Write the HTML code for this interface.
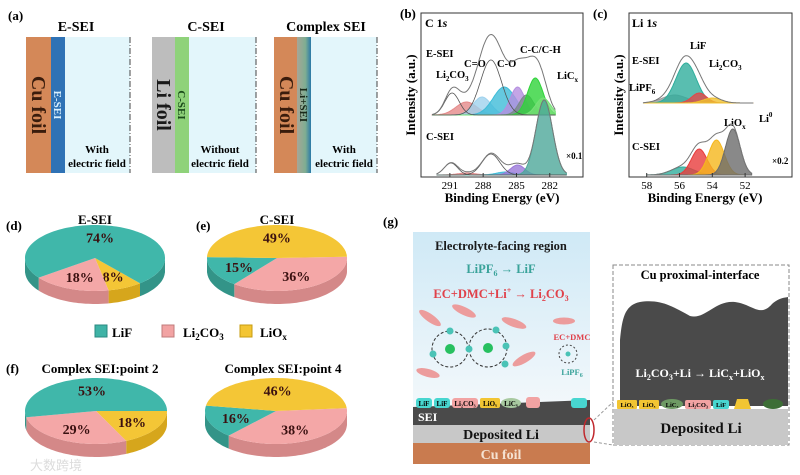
<!DOCTYPE html>
<html><head><meta charset="utf-8">
<style>
html,body{margin:0;padding:0;background:#fff;}
svg{display:block;font-family:"Liberation Serif",serif;font-weight:bold;}
</style></head>
<body>
<svg id="fig" width="800" height="475" viewBox="0 0 800 475" xmlns="http://www.w3.org/2000/svg">
<defs>
<linearGradient id="sky" x1="0" y1="0" x2="0" y2="1"><stop offset="0" stop-color="#cfe9f6"/><stop offset="1" stop-color="#f3f8fb"/></linearGradient>
<linearGradient id="cx" x1="0" y1="0" x2="1" y2="0"><stop offset="0" stop-color="#a7a596"/><stop offset="0.6" stop-color="#7fae92"/><stop offset="1" stop-color="#2b79a7"/></linearGradient>
</defs>

<!-- Panel (a) -->
<g>
<text x="8" y="20" font-size="13">(a)</text>
<text x="76" y="31" font-size="14" text-anchor="middle">E-SEI</text>
<text x="206" y="31" font-size="14" text-anchor="middle">C-SEI</text>
<text x="326" y="31" font-size="14" text-anchor="middle">Complex SEI</text>

<rect x="26" y="37" width="25" height="136" fill="#d48858"/>
<rect x="51" y="37" width="14" height="136" fill="#2f72b5"/>
<rect x="65" y="37" width="65" height="136" fill="#e3f6fb"/>
<line x1="130" y1="37" x2="130" y2="173" stroke="#444" stroke-dasharray="6,2,1,2"/>
<text transform="translate(32,105) rotate(90)" font-size="20" text-anchor="middle" fill="#3a1c0c">Cu foil</text>
<text transform="translate(54,105) rotate(90)" font-size="11" text-anchor="middle" fill="#d8f0ff">E-SEI</text>
<text x="97" y="153" font-size="11" text-anchor="middle">With</text>
<text x="97" y="167" font-size="11" text-anchor="middle">electric field</text>

<rect x="152" y="37" width="23" height="136" fill="#bdbdbd"/>
<rect x="175" y="37" width="14" height="136" fill="#8fd27a"/>
<rect x="189" y="37" width="67" height="136" fill="#e3f6fb"/>
<line x1="256" y1="37" x2="256" y2="173" stroke="#444" stroke-dasharray="6,2,1,2"/>
<text transform="translate(157,105) rotate(90)" font-size="20" text-anchor="middle" fill="#1a1a1a">Li foil</text>
<text transform="translate(178,105) rotate(90)" font-size="11" text-anchor="middle" fill="#1a4a1a">C-SEI</text>
<text x="220" y="153" font-size="11" text-anchor="middle">Without</text>
<text x="220" y="167" font-size="11" text-anchor="middle">electric field</text>

<rect x="274" y="37" width="23" height="136" fill="#d48858"/>
<rect x="297" y="37" width="14" height="136" fill="url(#cx)"/>
<rect x="311" y="37" width="66" height="136" fill="#e3f6fb"/>
<line x1="377" y1="37" x2="377" y2="173" stroke="#444" stroke-dasharray="6,2,1,2"/>
<text transform="translate(280,105) rotate(90)" font-size="20" text-anchor="middle" fill="#3a1c0c">Cu foil</text>
<text transform="translate(300,105) rotate(90)" font-size="11" text-anchor="middle" fill="#1a2a1a">Li+SEI</text>
<text x="344" y="153" font-size="11" text-anchor="middle">With</text>
<text x="344" y="167" font-size="11" text-anchor="middle">electric field</text>
</g>

<!-- Panel (b) -->
<g id="pb">
<text x="400" y="18" font-size="13">(b)</text>
<rect x="421" y="13" width="162" height="164" fill="none" stroke="#333"/>
<text x="425" y="27" font-size="12">C 1<tspan font-style="italic">s</tspan></text>
<text transform="translate(415,95) rotate(-90)" font-size="13" text-anchor="middle">Intensity (a.u.)</text>
<text x="502" y="202" font-size="13" text-anchor="middle">Binding Energy (eV)</text>
<text x="426" y="57" font-size="10.5">E-SEI</text>
<text x="426" y="140" font-size="10.5">C-SEI</text>
<text x="436" y="78" font-size="10.5">Li<tspan font-size="7" dy="3">2</tspan><tspan dy="-3">CO</tspan><tspan font-size="7" dy="3">3</tspan></text>
<text x="464" y="67" font-size="10.5">C=O</text>
<text x="497" y="67" font-size="10.5">C-O</text>
<text x="520" y="53" font-size="10.5">C-C/C-H</text>
<text x="557" y="79" font-size="10.5">LiC<tspan font-size="7" dy="3">x</tspan></text>
<text x="566" y="159" font-size="9">×0.1</text>
</g>

<!-- Panel (c) -->
<g id="pc">
<text x="593" y="18" font-size="13">(c)</text>
<rect x="629" y="13" width="163" height="164" fill="none" stroke="#333"/>
<text x="632" y="27" font-size="12">Li 1<tspan font-style="italic">s</tspan></text>
<text transform="translate(623,95) rotate(-90)" font-size="13" text-anchor="middle">Intensity (a.u.)</text>
<text x="705" y="202" font-size="13" text-anchor="middle">Binding Energy (eV)</text>
<text x="632" y="64" font-size="10.5">E-SEI</text>
<text x="632" y="150" font-size="10.5">C-SEI</text>
<text x="690" y="49" font-size="10.5">LiF</text>
<text x="709" y="67" font-size="10.5">Li<tspan font-size="7" dy="3">2</tspan><tspan dy="-3">CO</tspan><tspan font-size="7" dy="3">3</tspan></text>
<text x="629" y="91" font-size="10.5">LiPF<tspan font-size="7" dy="3">6</tspan></text>
<text x="724" y="126" font-size="10.5">LiO<tspan font-size="7" dy="3">x</tspan></text>
<text x="759" y="122" font-size="10.5">Li<tspan font-size="7" dy="-5">0</tspan></text>
<text x="772" y="164" font-size="9">×0.2</text>
</g>

<!-- Pies -->
<g id="pies">
<text x="6" y="230" font-size="13">(d)</text>
<text x="95" y="224" font-size="13" text-anchor="middle">E-SEI</text>
<text x="196" y="230" font-size="13">(e)</text>
<text x="277" y="224" font-size="13" text-anchor="middle">C-SEI</text>
<text x="6" y="373" font-size="13">(f)</text>
<text x="100" y="373" font-size="13" text-anchor="middle">Complex SEI:point 2</text>
<text x="283" y="373" font-size="13" text-anchor="middle">Complex SEI:point 4</text>
<g>
<rect x="95" y="325" width="12" height="12" fill="#3fb3a6" stroke="#2a8a80"/>
<text x="112" y="337" font-size="13">LiF</text>
<rect x="162" y="325" width="12" height="12" fill="#f2a3a3" stroke="#c07b7b"/>
<text x="183" y="337" font-size="13">Li<tspan font-size="9" dy="3">2</tspan><tspan dy="-3">CO</tspan><tspan font-size="9" dy="3">3</tspan></text>
<rect x="240" y="325" width="12" height="12" fill="#f3c533" stroke="#c79c10"/>
<text x="260" y="337" font-size="13">LiO<tspan font-size="9" dy="3">x</tspan></text>
</g>
</g>

<!-- Panel (g) -->
<g>
<text x="383" y="226" font-size="13">(g)</text>
<rect x="413" y="232" width="177" height="175" fill="url(#sky)"/>
<text x="501" y="250" font-size="12.5" text-anchor="middle" fill="#1a1a1a">Electrolyte-facing region</text>
<text x="501" y="273" font-size="12.5" text-anchor="middle" fill="#3aa39a">LiPF<tspan font-size="8" dy="3">6</tspan><tspan dy="-3"> → LiF</tspan></text>
<text x="501" y="298" font-size="12.5" text-anchor="middle" fill="#e0414a">EC+DMC+Li<tspan font-size="8" dy="-5">+</tspan><tspan dy="5"> → Li</tspan><tspan font-size="8" dy="3">2</tspan><tspan dy="-3">CO</tspan><tspan font-size="8" dy="3">3</tspan></text>
<g fill="#ec9c9c">
<ellipse cx="430" cy="318" rx="13" ry="4" transform="rotate(35 430 318)"/>
<ellipse cx="464" cy="311" rx="13" ry="4" transform="rotate(25 464 311)"/>
<ellipse cx="514" cy="323" rx="13" ry="4" transform="rotate(20 514 323)"/>
<ellipse cx="564" cy="321" rx="11" ry="3.5"/>
<ellipse cx="428" cy="373" rx="12" ry="4" transform="rotate(15 428 373)"/>
<ellipse cx="524" cy="359" rx="13" ry="4" transform="rotate(-30 524 359)"/>
</g>
<g>
<circle cx="450" cy="349" r="18" fill="none" stroke="#333" stroke-dasharray="3,2"/>
<circle cx="488" cy="348" r="19" fill="none" stroke="#333" stroke-dasharray="3,2"/>
<circle cx="450" cy="349" r="5" fill="#27c060"/><circle cx="488" cy="348" r="5" fill="#27c060"/>
<g fill="#4ac3b6"><circle cx="450" cy="331" r="3.5"/><circle cx="433" cy="354" r="3.5"/><circle cx="469" cy="349" r="3.5"/><circle cx="496" cy="330" r="3.5"/><circle cx="506" cy="346" r="3.5"/><circle cx="505" cy="364" r="3.5"/></g>
<circle cx="568" cy="354" r="9" fill="none" stroke="#444" stroke-dasharray="2,2"/>
<circle cx="568" cy="354" r="2.5" fill="#4ac3b6"/>
</g>
<text x="572" y="340" font-size="8.5" text-anchor="middle" fill="#e0414a">EC+DMC</text>
<text x="572" y="375" font-size="8.5" text-anchor="middle" fill="#3aa39a">LiPF<tspan font-size="6" dy="2">6</tspan></text>
<polygon points="413,407 413,415 590,412 590,400" fill="#4a4a4a"/>
<rect x="413" y="408" width="177" height="17" fill="#4a4a4a"/>
<text x="418" y="421" font-size="12" fill="#fff">SEI</text>
<g font-size="7" text-anchor="middle">
<rect x="416" y="398" width="16" height="10" rx="3" fill="#48d6d0"/><text x="424" y="406">LiF</text>
<rect x="434" y="398" width="16" height="10" rx="3" fill="#48d6d0"/><text x="442" y="406">LiF</text>
<rect x="452" y="398" width="26" height="10" rx="3" fill="#f2a3a3"/><text x="465" y="406">Li₂CO₃</text>
<rect x="480" y="398" width="20" height="10" rx="2" fill="#f2c533"/><text x="490" y="406">LiOₓ</text>
<ellipse cx="511" cy="403" rx="10" ry="5" fill="#a8c9a0"/><text x="511" y="406">LiCₓ</text>
<rect x="526" y="397" width="14" height="11" rx="3" fill="#f2a3a3"/>
<rect x="571" y="398" width="16" height="10" rx="3" fill="#48d6d0"/>
</g>
<rect x="413" y="425" width="177" height="18" fill="#c8c8c8"/>
<text x="501" y="439" font-size="14" text-anchor="middle" fill="#111">Deposited Li</text>
<rect x="413" y="443" width="177" height="21" fill="#c97b4f"/>
<text x="501" y="459" font-size="14" text-anchor="middle" fill="#f5e2d2">Cu foil</text>
<ellipse cx="589" cy="430" rx="5" ry="12" fill="none" stroke="#c0282d" stroke-width="1.5"/>
<line x1="594" y1="420" x2="613" y2="402" stroke="#999" stroke-dasharray="3,2"/>
<line x1="594" y1="442" x2="613" y2="445" stroke="#999" stroke-dasharray="3,2"/>
<rect x="613" y="265" width="176" height="180" fill="#fff" stroke="#888" stroke-dasharray="4,2"/>
<text x="700" y="279" font-size="12.5" text-anchor="middle">Cu proximal-interface</text>
<path d="M620,406 L620,340 C622,320 624,305 640,302 C660,299 672,306 690,316 C705,320 715,300 735,302 C752,304 760,318 772,304 C780,297 785,298 788,297 L788,406 Z" fill="#4a4a4a"/>
<text x="700" y="377" font-size="12" text-anchor="middle" fill="#fff">Li<tspan font-size="8" dy="3">2</tspan><tspan dy="-3">CO</tspan><tspan font-size="8" dy="3">3</tspan><tspan dy="-3">+Li → LiC</tspan><tspan font-size="8" dy="3">x</tspan><tspan dy="-3">+LiO</tspan><tspan font-size="8" dy="3">x</tspan></text>
<g font-size="6.5" text-anchor="middle">
<rect x="617" y="400" width="20" height="9" rx="1" fill="#f2c533"/><text x="627" y="407">LiOₓ</text>
<rect x="639" y="400" width="20" height="9" rx="1" fill="#f2c533"/><text x="649" y="407">LiOₓ</text>
<ellipse cx="672" cy="404" rx="11" ry="5" fill="#6e9a64"/><text x="672" y="407">LiCₓ</text>
<rect x="685" y="400" width="26" height="9" rx="2" fill="#f2a3a3"/><text x="698" y="407">Li₂CO₃</text>
<rect x="713" y="400" width="16" height="9" rx="2" fill="#48d6d0"/><text x="721" y="407">LiF</text>
<polygon points="734,409 737,399 748,399 751,409" fill="#f2c533"/>
<ellipse cx="773" cy="404" rx="10" ry="5" fill="#3d6e36"/>
</g>
<rect x="614" y="409" width="174" height="36" fill="#c8c8c8"/>
<text x="701" y="433" font-size="15" text-anchor="middle" fill="#111">Deposited Li</text>
</g>
<text x="30" y="470" font-size="13" fill="#dcdcdc" font-weight="normal" font-family="'Liberation Sans','Noto Sans CJK SC',sans-serif">大数跨境</text>

<script>
// ===== XPS data (b) C 1s =====
const bTicks = [291, 288, 285, 282];
const bUpperCenters = [289.5, 288.1, 286.1, 284.9, 284.1, 283.3, 282.6];
const bUpperHeights = [13, 18, 28, 28, 20, 37, 17];
const bUpperWidths = [0.95, 0.8, 1.0, 0.65, 0.65, 0.7, 0.65];
const bUpperColors = ["#e58a8a", "#9fd2ee", "#3fbcd8", "#b58fe0", "#7a8a8a", "#2fd33a", "#77e077"];
const bUpperLineCenters = [290.8, 287.3];
const bUpperLineHeights = [22, 55];
const bUpperLineWidths = [0.65, 0.95];
const bLowerCenters = [289.5, 286.0, 284.9, 282.5];
const bLowerHeights = [2, 3, 10, 75];
const bLowerWidths = [0.8, 0.8, 0.65, 0.75];
const bLowerColors = ["#e58a8a", "#3fbcd8", "#9a78d8", "#4ea89a"];
const bLowerLineCenters = [290.9, 287.3];
const bLowerLineHeights = [12, 21];
const bLowerLineWidths = [0.6, 0.8];
// ===== XPS data (c) Li 1s =====
const cTicks = [58, 56, 54, 52];
const cUpperCenters = [56.3, 55.6, 54.8, 54.0];
const cUpperHeights = [8, 40, 10, 5];
const cUpperWidths = [0.75, 0.62, 0.45, 0.55];
const cUpperColors = ["#9a9a9a", "#2fae9c", "#e24848", "#f0c030"];
const cLowerCenters = [55.8, 54.8, 53.75, 52.75];
const cLowerHeights = [8, 26, 35, 46];
const cLowerWidths = [0.7, 0.48, 0.48, 0.45];
const cLowerColors = ["#2fae9c", "#e83c3c", "#f5b71c", "#6c6c6c"];
// ===== Pie data =====
const pieLabels = ["LiF", "Li2CO3", "LiOx"];
const pieD = [74, 18, 8];
const pieE = [15, 36, 49];
const pieF2 = [53, 29, 18];
const pieF4 = [16, 38, 46];

const NS = "http://www.w3.org/2000/svg";
const svg = document.getElementById("fig");
function mk(tag, attrs, parent) {
  const e = document.createElementNS(NS, tag);
  for (const k in attrs) e.setAttribute(k, attrs[k]);
  (parent || svg).appendChild(e);
  return e;
}
function g(E, c, h, s) { return h * Math.exp(-0.5 * ((E - c) / s) ** 2); }

const bX = E => 421 + (293.6 - E) * 11.1;
const cX = E => 629 + (59.08 - E) * 16.4;

function drawSpectrum(parent, xf, eMin, eMax, base, centers, heights, widths, colors, lc, lh, lw, name) {
  const N = 200;
  for (let i = 0; i < centers.length; i++) {
    let d = "M" + xf(eMax) + "," + base;
    for (let k = 0; k <= N; k++) {
      const E = eMax - (eMax - eMin) * k / N;
      d += " L" + xf(E).toFixed(1) + "," + (base - g(E, centers[i], heights[i], widths[i])).toFixed(1);
    }
    d += " L" + xf(eMin) + "," + base + " Z";
    const p = mk("path", { d: d, fill: colors[i], "fill-opacity": 0.8, stroke: colors[i] }, parent);
    
    
  }
  for (let i = 0; i < lc.length; i++) {
    let d = "";
    for (let k = 0; k <= N; k++) {
      const E = eMax - (eMax - eMin) * k / N;
      d += (k ? " L" : "M") + xf(E).toFixed(1) + "," + (base - g(E, lc[i], lh[i], lw[i])).toFixed(1);
    }
    const p = mk("path", { d: d, fill: "none", stroke: "#555", "stroke-width": 0.8 }, parent);
    
    
  }
  let d = "";
  for (let k = 0; k <= N; k++) {
    const E = eMax - (eMax - eMin) * k / N;
    let s = 0;
    for (let i = 0; i < centers.length; i++) s += g(E, centers[i], heights[i], widths[i]);
    for (let i = 0; i < lc.length; i++) s += g(E, lc[i], lh[i], lw[i]);
    d += (k ? " L" : "M") + xf(E).toFixed(1) + "," + (base - s).toFixed(1);
  }
  const env = mk("path", { d: d, fill: "none", stroke: "#777", "stroke-width": 1 }, parent);
  
  
}
const pb = document.getElementById("pb");
const pc = document.getElementById("pc");
drawSpectrum(pb, bX, 281.5, 292.6, 115, bUpperCenters, bUpperHeights, bUpperWidths, bUpperColors, bUpperLineCenters, bUpperLineHeights, bUpperLineWidths, "c1s-e-sei");
drawSpectrum(pb, bX, 280.5, 292.2, 175, bLowerCenters, bLowerHeights, bLowerWidths, bLowerColors, bLowerLineCenters, bLowerLineHeights, bLowerLineWidths, "c1s-c-sei");
drawSpectrum(pc, cX, 51.5, 58.2, 103, cUpperCenters, cUpperHeights, cUpperWidths, cUpperColors, [], [], [], "li1s-e-sei");
drawSpectrum(pc, cX, 51.6, 58.0, 175, cLowerCenters, cLowerHeights, cLowerWidths, cLowerColors, [], [], [], "li1s-c-sei");
bTicks.forEach(t => {
  const l = mk("line", { x1: bX(t), x2: bX(t), y1: 177, y2: 173, stroke: "#333" }, pb);
  
  
  const tx = mk("text", { x: bX(t), y: 189, "font-size": 11, "text-anchor": "middle", "font-weight": "normal" }, pb);
  tx.textContent = t;
  
  
});
cTicks.forEach(t => {
  const l = mk("line", { x1: cX(t), x2: cX(t), y1: 177, y2: 173, stroke: "#333" }, pc);
  
  
  const tx = mk("text", { x: cX(t), y: 189, "font-size": 11, "text-anchor": "middle", "font-weight": "normal" }, pc);
  tx.textContent = t;
  
  
});

// ===== Pies =====
const topCol = ["#40b7aa", "#f4a7a7", "#f4c636"];
const sideCol = ["#339488", "#d48888", "#d6a61c"];
const pies = document.getElementById("pies");
function drawPie(cx, cy, rx, ry, h, startDeg, order, vals, name) {
  const total = vals.reduce((a, b) => a + b, 0);
  let a = startDeg;
  const slices = [];
  order.forEach(i => {
    const span = vals[i] / total * 360;
    slices.push({ i: i, a0: a, a1: a + span });
    a += span;
  });
  const P = (deg, dy) => {
    const r = deg * Math.PI / 180;
    return (cx + rx * Math.cos(r)).toFixed(1) + "," + (cy + ry * Math.sin(r) + dy).toFixed(1);
  };
  slices.forEach(s => {
    for (let off = -360; off <= 360; off += 360) {
      const lo = Math.max(s.a0 + off, 0), hi = Math.min(s.a1 + off, 180);
      if (hi <= lo) continue;
      let d = "M" + P(lo, 0);
      for (let t = lo; t <= hi; t += 2) d += " L" + P(t, 0);
      d += " L" + P(hi, 0) + " L" + P(hi, h);
      for (let t = hi; t >= lo; t -= 2) d += " L" + P(t, h);
      d += " L" + P(lo, h) + " Z";
      const p = mk("path", { d: d, fill: sideCol[s.i] }, pies);
      
      
    }
  });
  slices.forEach(s => {
    let d = "M" + cx + "," + cy;
    for (let t = s.a0; t < s.a1; t += 2) d += " L" + P(t, 0);
    d += " L" + P(s.a1, 0) + " Z";
    const p = mk("path", { d: d, fill: topCol[s.i] }, pies);
    
    
    const m = (s.a0 + s.a1) / 2 * Math.PI / 180;
    const tx = mk("text", { x: cx + rx * 0.6 * Math.cos(m), y: cy + ry * 0.62 * Math.sin(m) + 5, "font-size": 14, "text-anchor": "middle", fill: "#3a1010" }, pies);
    tx.textContent = vals[s.i] + "%";
    
    
  });
}
drawPie(95, 258, 70, 33, 13, 50, [2, 1, 0], pieD, "pie-e-sei");
drawPie(277, 258, 70, 33, 13, -2, [1, 0, 2], pieE, "pie-c-sei");
drawPie(96, 411, 71, 33, 13, 0, [2, 1, 0], pieF2, "pie-point2");
drawPie(276, 411, 71, 33, 13, -5, [1, 0, 2], pieF4, "pie-point4");
</script>
</svg>
</body></html>
